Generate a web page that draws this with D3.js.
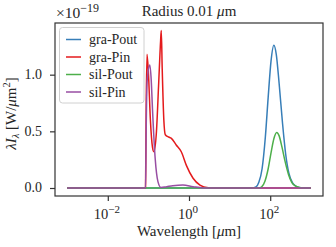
<!DOCTYPE html>
<html><head><meta charset="utf-8">
<script src="https://cdn.jsdelivr.net/npm/d3@7"></script>
<style>
html,body{margin:0;padding:0;background:#fff;}
svg{display:block;}
</style></head>
<body>
<svg id="chart" width="336" height="247"></svg>
<script>
// ---- data (wavelength in µm, λI_λ in units of 1e-19 W/µm²) ----
const seriesNames = ["gra-Pout", "gra-Pin", "sil-Pout", "sil-Pin"];
const seriesColors = ["#377eb8", "#e41a1c", "#4daf4a", "#984ea3"];

const graPoutLambda = [0.001, 35.5, 44.7, 52.5, 63.1, 75.9, 89.1, 104.7, 123, 141, 166, 200, 240, 288, 355, 447, 562, 708, 1000];
const graPoutValue  = [0, 0, 0.01, 0.05, 0.17, 0.45, 0.8, 1.12, 1.26, 1.18, 0.92, 0.58, 0.3, 0.13, 0.045, 0.012, 0.002, 0, 0];

const graPinLambda = [0.001, 0.0851, 0.0881, 0.0923, 0.1, 0.112, 0.126, 0.1365, 0.158, 0.178, 0.2, 0.2075, 0.219, 0.24, 0.261, 0.316, 0.363, 0.484, 0.646, 0.861, 1.259, 1.862, 2.985, 3.98, 1000];
const graPinValue  = [0, 0, 0.7, 1.18, 1.02, 0.6, 0.36, 0.32, 0.5, 0.9, 1.3, 1.39, 1.05, 0.6, 0.47, 0.45, 0.44, 0.38, 0.32, 0.2, 0.086, 0.026, 0.002, 0, 0];

const silPoutLambda = [0.001, 52.5, 61.7, 74.1, 89.1, 104.7, 123, 144.5, 166, 195, 234, 282, 339, 417, 525, 661, 1000];
const silPoutValue  = [0, 0, 0.01, 0.06, 0.17, 0.31, 0.435, 0.49, 0.46, 0.36, 0.23, 0.12, 0.05, 0.018, 0.005, 0.001, 0];

const silPinLambda = [0.001, 0.0851, 0.0881, 0.0933, 0.1084, 0.1175, 0.126, 0.147, 0.1718, 0.204, 0.282, 0.398, 0.708, 1.259, 2.188, 3.16, 1000];
const silPinValue  = [0, 0, 0.5, 0.95, 1.085, 0.95, 0.7, 0.26, 0.056, 0.005, 0.012, 0.02, 0.026, 0.012, 0.001, 0, 0];

const xTickValues = [0.01, 1, 100];
const xTickExponents = ["\u22122", "0", "2"];
const yTickValues = [0, 0.5, 1.0];

// ---- layout ----
const FONT = "Liberation Serif";
const svg = d3.select("#chart");
const L = 55, R = 323, T = 23, B = 196;
const x = d3.scaleLog().domain([Math.pow(10, -3.3), Math.pow(10, 3.3)]).range([L, R]);
const y = d3.scaleLinear().domain([-0.0706, 1.456]).range([B, T]);

const series = [
  {lam: graPoutLambda, val: graPoutValue},
  {lam: graPinLambda, val: graPinValue},
  {lam: silPoutLambda, val: silPoutValue},
  {lam: silPinLambda, val: silPinValue}
];

svg.append("clipPath").attr("id", "plotclip").append("rect")
  .attr("x", L).attr("y", T).attr("width", R - L).attr("height", B - T);

const line = d3.line().x(d => x(d[0])).y(d => y(d[1])).curve(d3.curveMonotoneX);
const g = svg.append("g").attr("clip-path", "url(#plotclip)");
series.forEach((s, i) => {
  const pts = s.lam.map((l, j) => [l, s.val[j]]);
  g.append("path").datum(pts).attr("d", line)
    .attr("fill", "none").attr("stroke", seriesColors[i])
    .attr("stroke-width", 1.5).attr("stroke-linejoin", "round");
});

// frame
svg.append("rect").attr("x", L).attr("y", T).attr("width", R - L).attr("height", B - T)
  .attr("fill", "none").attr("stroke", "#333").attr("stroke-width", 1.2);

function txt(sel) { return sel.attr("font-family", FONT).attr("fill", "#262626"); }

// x axis
const xAxis = d3.axisBottom(x).tickValues(xTickValues).tickSize(5).tickFormat("");
const xg = svg.append("g").attr("transform", `translate(0,${B})`).call(xAxis);
xg.select(".domain").remove();
xg.selectAll(".tick line").attr("stroke", "#333").attr("stroke-width", 1.2);
xTickValues.forEach((v, i) => {
  const t = txt(svg.append("text")).attr("x", x(v) - 1).attr("y", 219)
    .attr("text-anchor", "middle").attr("font-size", 14.5);
  t.append("tspan").text("10");
  t.append("tspan").attr("dy", -6).attr("font-size", 11).text(xTickExponents[i]);
});

// y axis
const yAxis = d3.axisLeft(y).tickValues(yTickValues).tickSize(5).tickFormat("");
const yg = svg.append("g").attr("transform", `translate(${L},0)`).call(yAxis);
yg.select(".domain").remove();
yg.selectAll(".tick line").attr("stroke", "#333").attr("stroke-width", 1.2);
yTickValues.forEach(v => {
  txt(svg.append("text")).attr("x", 42).attr("y", y(v) + 4.5)
    .attr("text-anchor", "end").attr("font-size", 14).text(d3.format(".1f")(v));
});

// offset text
const off = txt(svg.append("text")).attr("x", 56).attr("y", 17.5).attr("font-size", 15.5);
off.append("tspan").text("\u00d710");
off.append("tspan").attr("dy", -6).attr("font-size", 12).text("\u221219");

// title
const title = txt(svg.append("text")).attr("x", (L + R) / 2).attr("y", 15.5)
  .attr("text-anchor", "middle").attr("font-size", 15);
title.append("tspan").text("Radius 0.01 ");
title.append("tspan").attr("font-style", "italic").text("\u03bc");
title.append("tspan").text("m");

// x label
const xl = txt(svg.append("text")).attr("x", (L + R) / 2).attr("y", 236)
  .attr("text-anchor", "middle").attr("font-size", 15);
xl.append("tspan").text("Wavelength [");
xl.append("tspan").attr("font-style", "italic").text("\u03bc");
xl.append("tspan").text("m]");

// y label
const yl = txt(svg.append("text")).attr("transform", `translate(16,${(T + B) / 2 + 4}) rotate(-90)`)
  .attr("text-anchor", "middle").attr("font-size", 15);
yl.append("tspan").attr("font-style", "italic").text("\u03bbI");
yl.append("tspan").attr("dy", 3).attr("font-size", 10.5).attr("font-style", "italic").text("\u03bb");
yl.append("tspan").attr("dy", -3).text(" [W/");
yl.append("tspan").attr("font-style", "italic").text("\u03bc");
yl.append("tspan").text("m");
yl.append("tspan").attr("dy", -6).attr("font-size", 10.5).text("2");
yl.append("tspan").attr("dy", 6).text("]");

// legend
const lg = svg.append("g");
lg.append("rect").attr("x", 59.5).attr("y", 27.5).attr("width", 84.5).attr("height", 75.5)
  .attr("rx", 3).attr("fill", "#fff").attr("fill-opacity", 0.8)
  .attr("stroke", "#d0d0d0").attr("stroke-width", 1);
seriesNames.forEach((n, i) => {
  const cy = 39.5 + i * 17.5;
  lg.append("line").attr("x1", 66).attr("x2", 81).attr("y1", cy).attr("y2", cy)
    .attr("stroke", seriesColors[i]).attr("stroke-width", 1.5);
  txt(lg.append("text")).attr("x", 89).attr("y", cy + 4.5).attr("font-size", 14).text(n);
});
</script>
</body></html>
